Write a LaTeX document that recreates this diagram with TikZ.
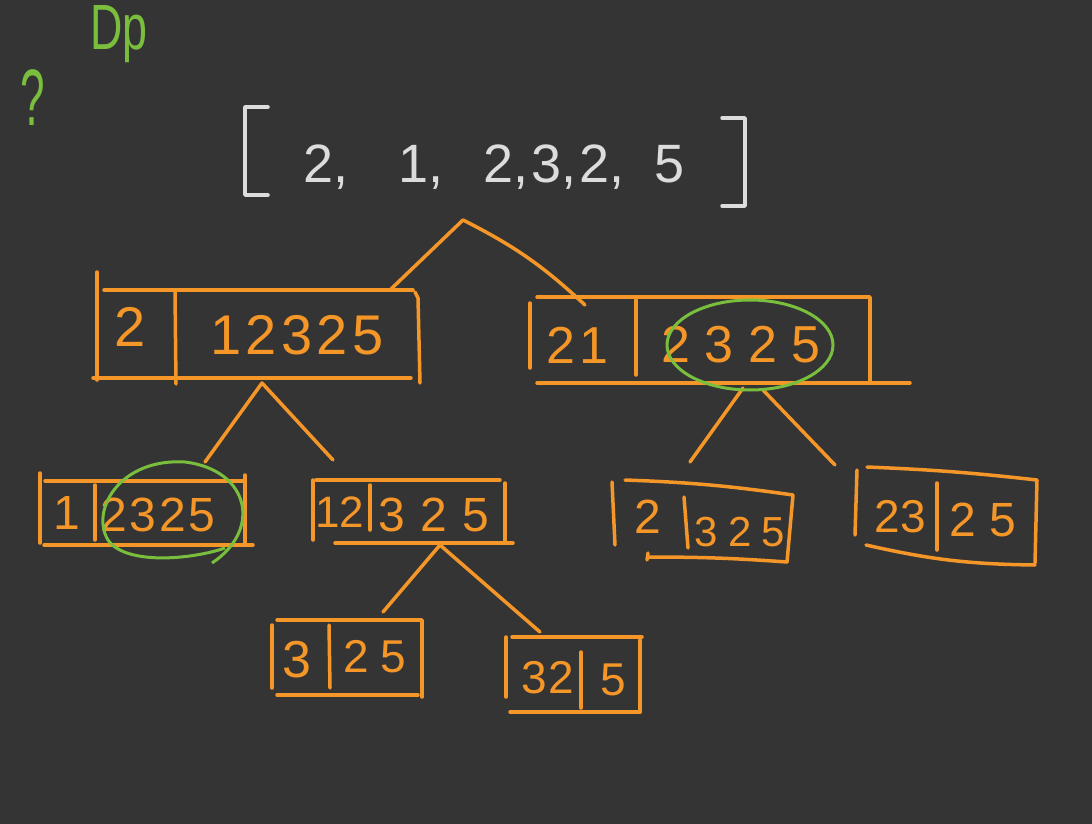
\documentclass[tikz,border=0pt]{standalone}
\usepackage{fontspec}
\setmainfont{Liberation Sans}
\definecolor{bg}{RGB}{52,52,52}
\definecolor{org}{RGB}{245,150,40}
\definecolor{grn}{RGB}{122,190,62}
\definecolor{chalk}{RGB}{220,220,220}
\begin{document}
\begin{tikzpicture}[x=1pt,y=-1pt,
  pen/.style={draw=org, line width=3.5pt, line cap=round, line join=round},
  wpen/.style={draw=chalk, line width=3.5pt, line cap=round, line join=round},
  circ/.style={draw=grn, line width=3pt},
  dig/.style 2 args={text=org, inner sep=0pt, font=\fontsize{#1}{#1}\selectfont\addfontfeature{LetterSpace=#2}},
  gtext/.style={text=grn, inner sep=0pt, font=\fontsize{#1}{#1}\selectfont}]
\fill[bg] (0,0) rectangle (1092,824);
\useasboundingbox (0,0) rectangle (1092,824);

% title and question mark
\node[gtext=64, xscale=0.7, anchor=base west] (title) at (90,50) {Dp};
\node[gtext=80, xscale=0.55, anchor=base] (q) at (33,126) {?};

% array
\draw[wpen] (268,107) -- (245,107) -- (245,195) -- (268,195);
\draw[wpen] (722,118) -- (745,118) -- (745,206) -- (722,206);
\node[text=chalk, inner sep=0pt, font=\fontsize{54}{54}\selectfont, anchor=base west] (arr) at (303,182)
  {2,\hspace{50pt}1,\hspace{40pt}2,\hspace{3pt}3,\hspace{3pt}2,\hspace{30pt}5};

% connector coordinates
\coordinate (apex0) at (463,220);
\coordinate (aTop) at (390,290);
\coordinate (bTop) at (585,305);
\coordinate (aBot) at (262,383);
\coordinate (cTop) at (205,462);
\coordinate (dTop) at (333,460);
\coordinate (bBotL) at (743,388);
\coordinate (bBotR) at (763,390);
\coordinate (eTop) at (690,462);
\coordinate (fTop) at (835,465);
\coordinate (dBot) at (440,545);
\coordinate (gTop) at (383,612);
\coordinate (hTop) at (540,632);

\draw[pen] (aTop) -- (apex0) to[bend left=8] (bTop);
\draw[pen] (cTop) -- (aBot) -- (dTop);
\draw[pen] (eTop) -- (bBotL);
\draw[pen] (bBotR) -- (fTop);
\draw[pen] (gTop) -- (dBot) -- (hTop);

% box A
\draw[pen] (97,272) -- (97,380);
\draw[pen] (104,290) -- (413,290);
\draw[pen] (93,378) -- (411,378);
\draw[pen] (175,292) -- (176,384);
\draw[pen] (415,292) -- (418,298) -- (420,383);
\node[dig={56}{0}] (a1) at (130,327) {2};
\node[dig={56}{8}] (a2) at (297,335) {12325};

% box B
\draw[pen] (530,303) -- (530,368);
\draw[pen] (537,297) -- (870,297) -- (870,382);
\draw[pen] (537,383) -- (910,383);
\draw[pen] (636,300) -- (636,375);
\node[dig={52}{8}] (b1) at (577,345) {21};
\node[dig={52}{28}] (b2) at (741,345) {2325};
\draw[circ] (750,345) ellipse [x radius=83, y radius=45];

% box C
\draw[pen] (40,473) -- (40,543);
\draw[pen] (45,481) -- (243,481);
\draw[pen] (245,475) -- (245,545);
\draw[pen] (44,545) -- (253,545);
\draw[pen] (95,485) -- (95,540);
\node[dig={48}{0}] (c1) at (67,513) {1};
\node[dig={48}{6}] (c2) at (158,515) {2325};
\draw[circ] (212,563) .. controls (262,530) and (250,470) .. (185,462)
  .. controls (120,458) and (90,510) .. (108,540)
  .. controls (125,565) and (190,560) .. (225,548);

% box D
\draw[pen] (313,480) -- (313,540);
\draw[pen] (316,480) -- (500,480);
\draw[pen] (505,483) -- (505,542);
\draw[pen] (335,543) -- (513,543);
\draw[pen] (370,485) -- (370,530);
\node[dig={44}{0}] (d1) at (340,512) {12};
\node[dig={48}{32}] (d2) at (434,515) {325};

% box E
\draw[pen] (612,482) -- (615,545);
\draw[pen] (625,480) to[bend left=3] (793,495) -- (787,562);
\draw[pen] (647,560) -- (648,553);
\draw[pen] (648,557) to[bend left=2] (787,562);
\draw[pen] (684,497) -- (688,548);
\node[dig={48}{0}] (e1) at (648,517) {2};
\node[dig={42}{24}] (e2) at (740,532) {325};

% box F
\draw[pen] (857,470) -- (855,535);
\draw[pen] (867,467) to[bend left=2] (1037,480) -- (1035,563);
\draw[pen] (866,545) to[bend right=6] (1035,565);
\draw[pen] (937,483) -- (937,550);
\node[dig={46}{0}] (f1) at (900,517) {23};
\node[dig={48}{28}] (f2) at (983,520) {25};

% box G
\draw[pen] (272,625) -- (272,688);
\draw[pen] (277,620) -- (422,620) -- (422,697);
\draw[pen] (277,695) -- (418,695);
\draw[pen] (329,625) -- (330,688);
\node[dig={52}{0}] (g1) at (297,660) {3};
\node[dig={46}{24}] (g2) at (375,657) {25};

% box H
\draw[pen] (506,637) -- (506,697);
\draw[pen] (512,637) -- (642,637);
\draw[pen] (640,640) -- (640,712);
\draw[pen] (510,712) -- (640,712);
\draw[pen] (581,652) -- (581,708);
\node[dig={46}{4}] (h1) at (548,678) {32};
\node[dig={46}{0}] (h2) at (613,680) {5};
\end{tikzpicture}
\end{document}
